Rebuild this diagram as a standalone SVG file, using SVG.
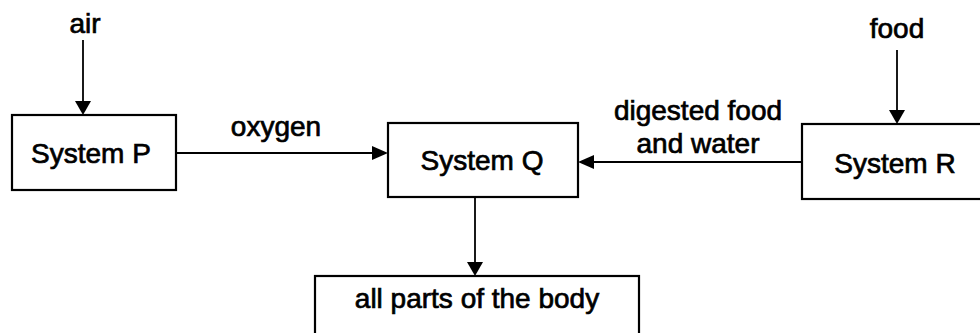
<svg xmlns="http://www.w3.org/2000/svg" width="980" height="333" viewBox="0 0 980 333">
<style>
.box{fill:#fff;stroke:#000;stroke-width:2.2}
.t{font-family:"Liberation Sans",Arial,sans-serif;font-size:28px;fill:#000;stroke:#000;stroke-width:0.7;text-anchor:middle}
.ln{stroke:#000;stroke-width:1.8;fill:none}
.hd{fill:#000}
</style>
<rect width="980" height="333" fill="#fff"/>
<g id="connectors">
<line class="ln" x1="83" y1="40" x2="83" y2="103"/>
<path class="hd" d="M75,101 L91,101 L83,115 z"/>
<line class="ln" x1="176" y1="153" x2="374" y2="153"/>
<path class="hd" d="M372,146 L388,153 L372,160 z"/>
<line class="ln" x1="802" y1="162" x2="592" y2="162"/>
<path class="hd" d="M594,155 L578,162 L594,169 z"/>
<line class="ln" x1="897" y1="50" x2="897" y2="112"/>
<path class="hd" d="M889,110 L905,110 L897,124 z"/>
<line class="ln" x1="475" y1="197" x2="475" y2="264"/>
<path class="hd" d="M467,262 L483,262 L475,276 z"/>
</g>
<g id="label-air"><text class="t" x="85" y="33">air</text></g>
<g id="label-food"><text class="t" x="897" y="38">food</text></g>
<g id="label-oxygen"><text class="t" x="276" y="136">oxygen</text></g>
<g id="label-digested"><text class="t" x="698" y="120">digested food</text><text class="t" x="698" y="153">and water</text></g>
<g id="systemP"><rect class="box" x="12" y="115" width="164" height="75"/><text class="t" x="91" y="163">System P</text></g>
<g id="systemQ"><rect class="box" x="388" y="123" width="190" height="74"/><text class="t" x="482" y="170">System Q</text></g>
<g id="systemR"><rect class="box" x="802" y="124" width="190" height="75"/><text class="t" x="895" y="173">System R</text></g>
<g id="body"><rect class="box" x="315" y="276" width="324" height="70"/><text class="t" x="477" y="308">all parts of the body</text></g>
</svg>
